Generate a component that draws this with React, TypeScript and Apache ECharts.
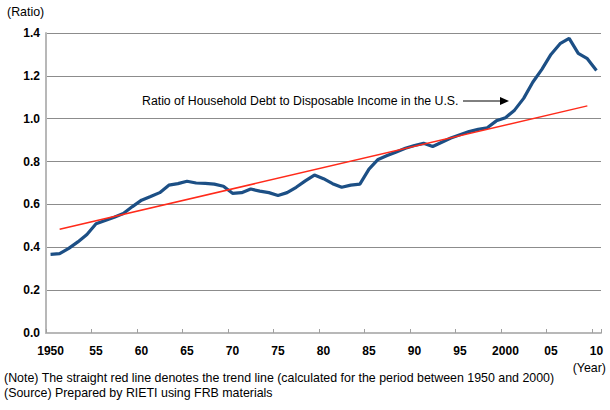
import React, { useEffect, useRef } from 'react';
import * as echarts from 'echarts';

// years on the category axis, 1950..2010
const years: string[] = [
  '1950', '1951', '1952', '1953', '1954', '1955', '1956', '1957', '1958', '1959',
  '1960', '1961', '1962', '1963', '1964', '1965', '1966', '1967', '1968', '1969',
  '1970', '1971', '1972', '1973', '1974', '1975', '1976', '1977', '1978', '1979',
  '1980', '1981', '1982', '1983', '1984', '1985', '1986', '1987', '1988', '1989',
  '1990', '1991', '1992', '1993', '1994', '1995', '1996', '1997', '1998', '1999',
  '2000', '2001', '2002', '2003', '2004', '2005', '2006', '2007', '2008', '2009',
  '2010',
];

// household debt / disposable income
const debtRatio: number[] = [
  0.367, 0.37, 0.395, 0.425, 0.46, 0.51, 0.525, 0.54, 0.558, 0.59,
  0.62, 0.637, 0.655, 0.69, 0.697, 0.708, 0.7, 0.698, 0.695, 0.685,
  0.652, 0.655, 0.672, 0.662, 0.655, 0.642, 0.655, 0.68, 0.71, 0.737,
  0.72, 0.697, 0.68, 0.69, 0.695, 0.765, 0.81, 0.828, 0.845, 0.862,
  0.875, 0.885, 0.87, 0.89, 0.91, 0.925, 0.94, 0.95, 0.958, 0.99,
  1.005, 1.04, 1.095, 1.17, 1.23, 1.3, 1.35, 1.375, 1.305, 1.28,
  1.225,
];

// trend line end points
const trendLine: [string, number][] = [
  ['1951', 0.484],
  ['2009', 1.06],
];

const yTicks = { min: 0, max: 1.4, interval: 0.2 };

const FONT = "'Liberation Sans', Arial, sans-serif";

const App: React.FC = () => {
  const chartRef = useRef<HTMLDivElement>(null);

  useEffect(() => {
    const chart = echarts.init(chartRef.current!, null, { renderer: 'svg' });

    const options = {
      animation: false,
      backgroundColor: '#ffffff',
      grid: { left: 46, right: 9, top: 33, bottom: 77 },
      xAxis: {
        type: 'category',
        data: years,
        boundaryGap: true,
        axisLine: { lineStyle: { color: '#b8b8b8', width: 2 } },
        axisTick: { show: true, inside: true, length: 4, interval: 4, lineStyle: { color: '#a0a0a0' } },
        axisLabel: {
          interval: 4,
          margin: 12,
          color: '#000',
          fontFamily: FONT,
          fontSize: 12,
          fontWeight: 'bold',
          formatter: (v: string) => (v === '1950' || v === '2000' ? v : v.slice(2)),
        },
        splitLine: { show: false },
      },
      yAxis: {
        type: 'value',
        min: yTicks.min,
        max: yTicks.max,
        interval: yTicks.interval,
        axisLine: { show: true, lineStyle: { color: '#b8b8b8', width: 2 } },
        axisTick: { show: false },
        axisLabel: {
          margin: 6,
          color: '#000',
          fontFamily: FONT,
          fontSize: 12,
          fontWeight: 'bold',
          formatter: (v: number) => v.toFixed(1),
        },
        splitLine: { lineStyle: { color: '#8c8c8c', width: 1 } },
      },
      graphic: [
        {
          type: 'text',
          left: 7,
          top: 6,
          style: { text: '(Ratio)', fill: '#000', font: `12.4px ${FONT}` },
        },
        {
          type: 'text',
          x: 606,
          y: 368,
          style: { text: '(Year)', fill: '#000', font: `12.4px ${FONT}`, align: 'right', verticalAlign: 'middle' },
        },
        {
          type: 'text',
          x: 142,
          y: 101,
          style: {
            text: 'Ratio of Household Debt to Disposable Income in the U.S.',
            fill: '#000',
            font: `12.3px ${FONT}`,
            verticalAlign: 'middle',
          },
        },
        {
          type: 'line',
          shape: { x1: 463, y1: 101, x2: 502, y2: 101 },
          style: { stroke: '#000', lineWidth: 1 },
        },
        {
          type: 'polygon',
          shape: { points: [[500, 97], [509, 101], [500, 105]] },
          style: { fill: '#000' },
        },
        {
          type: 'text',
          x: 4,
          y: 378,
          style: {
            text: '(Note) The straight red line denotes the trend line (calculated for the period between 1950 and 2000)',
            fill: '#000',
            font: `12.4px ${FONT}`,
            verticalAlign: 'middle',
          },
        },
        {
          type: 'text',
          x: 4,
          y: 393,
          style: {
            text: '(Source) Prepared by RIETI using FRB materials',
            fill: '#000',
            font: `12.4px ${FONT}`,
            verticalAlign: 'middle',
          },
        },
      ],
      series: [
        {
          name: 'Trend',
          type: 'line',
          data: trendLine,
          showSymbol: false,
          lineStyle: { color: '#ff2a1a', width: 1.5 },
          z: 3,
        },
        {
          name: 'Ratio of Household Debt to Disposable Income',
          type: 'line',
          data: debtRatio,
          showSymbol: false,
          lineStyle: { color: '#1c4f85', width: 3.2 },
          z: 2,
        },
      ],
    };

    chart.setOption(options);

    return () => {
      chart.dispose();
    };
  }, []);

  return (
    <div
      ref={chartRef}
      style={{ position: 'absolute', left: 0, top: 0, width: '610px', height: '410px' }}
    />
  );
};

export default App;
